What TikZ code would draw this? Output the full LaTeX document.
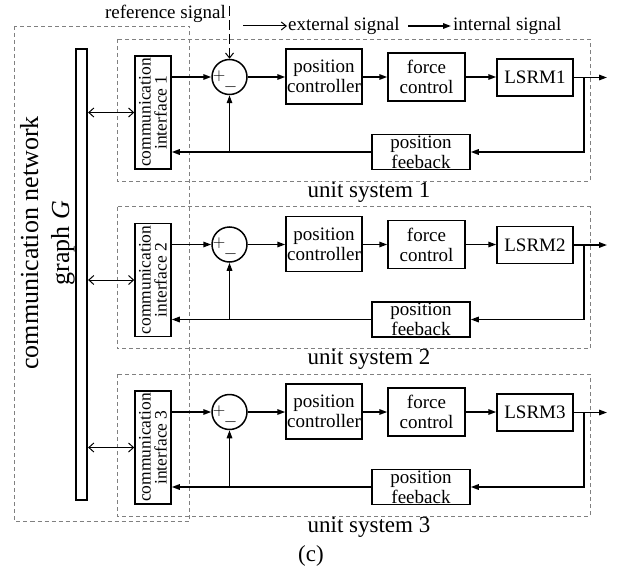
\documentclass[tikz,border=0pt]{standalone}
\usepackage{fontspec}
\setmainfont{Liberation Serif}
\usetikzlibrary{arrows.meta, positioning}

\tikzset{
  blk/.style={draw, line width=1.5pt, inner sep=0pt, align=center,
    font=\fontsize{19}{20}\selectfont},
  comm/.style={blk, rotate=90, minimum width=113pt, minimum height=36pt,
    font=\fontsize{17.5}{16}\selectfont},
  sumnode/.style={draw, circle, line width=1.5pt, minimum size=35pt, inner sep=0pt},
  frame/.style={draw=gray, dash pattern=on 4pt off 3pt, line width=0.8pt},
  intsig/.style={line width=1.5pt, -{Triangle[length=8pt,width=5.5pt]}},
  extsig/.style={line width=1pt, -{Straight Barb[length=5pt,width=8pt]}},
  bisig/.style={line width=1pt, {Straight Barb[length=5pt,width=9pt]}-{Straight Barb[length=5pt,width=9pt]}},
  lbl/.style={inner sep=0pt, font=\fontsize{19}{20}\selectfont}
}

\begin{document}
\begin{tikzpicture}[x=1pt,y=-1pt]
\useasboundingbox (0,0) rectangle (620,567);

% network side
\draw[frame] (14.5,26) rectangle (189,521);
\node[draw, line width=2.2pt, minimum width=11pt, minimum height=451pt, inner sep=0pt] (bus) at (81.5,274.5) {};
\node[rotate=90, align=center, inner sep=0pt, font=\fontsize{26}{31}\selectfont] (net) at (47.5,243)
  {communication network\\graph \textit{G}};

% legend
\node[lbl, anchor=east] (reftxt) at (226,14) {reference signal};
\coordinate (refin) at (229.5,6);
\coordinate (exa) at (243,26);
\coordinate (exb) at (287,26);
\coordinate (ina) at (408,26);
\coordinate (inb) at (451,26);
\draw[extsig] (exa) -- (exb);
\node[lbl, anchor=west] (extxt) at (288,26) {external signal};
\draw[intsig] (ina) -- (inb);
\node[lbl, anchor=west] (intxt) at (453,26) {internal signal};

% unit systems
\foreach \k/\dy in {1/0,2/167.5,3/335}{
\begin{scope}[shift={(0,\dy)}]
  \draw[frame] (117,39) rectangle (590,181);
  \node[lbl, font=\fontsize{23}{23}\selectfont] (us\k) at (369,192) {unit system \k};

  \node[comm] (ci\k) at (153,112.5) {communication\\interface \k};
  \node[sumnode] (sum\k) at (229.5,77) {};
  \node[inner sep=0pt, font=\fontsize{18}{18}\selectfont] at (219,76) {$+$};
  \node[inner sep=0pt, font=\fontsize{18}{18}\selectfont] at (230.5,87) {$-$};
  \node[blk, minimum width=76pt, minimum height=55pt] (pc\k) at (324,76.5) {position\\controller};
  \node[blk, minimum width=77pt, minimum height=48pt] (fc\k) at (426.5,77) {force\\control};
  \node[blk, minimum width=76pt, minimum height=37pt] (lsrm\k) at (535,77.5) {LSRM\k};
  \node[blk, minimum width=98pt, minimum height=35pt] (pf\k) at (421,152) {position\\feeback};

  \coordinate (out\k) at (607,77.5);
  \coordinate (br\k) at (584,77.5);

  \draw[bisig] (bus.east |- ci\k.center) -- (ci\k.north |- ci\k.center);
  \draw[intsig] (ci\k.south |- sum\k.west) -- (sum\k.west);
  \draw[intsig] (sum\k.east) -- (pc\k.west |- sum\k.east);
  \draw[intsig] (pc\k.east |- fc\k.west) -- (fc\k.west);
  \draw[intsig] (fc\k.east) -- (lsrm\k.west |- fc\k.east);
  \draw[intsig] (lsrm\k.east) -- (out\k);
  \draw[intsig] (br\k) |- (pf\k.east);
  \draw[intsig] (pf\k.west) -- (ci\k.south |- pf\k.west);
  \draw[intsig] (sum\k.south |- pf\k.west) -- (sum\k.south);
\end{scope}
}

\draw[extsig, dash pattern=on 10pt off 4pt] (refin) -- (sum1.north);

\node[lbl, font=\fontsize{23}{23}\selectfont] (cap) at (311,556) {(c)};
\end{tikzpicture}
\end{document}
